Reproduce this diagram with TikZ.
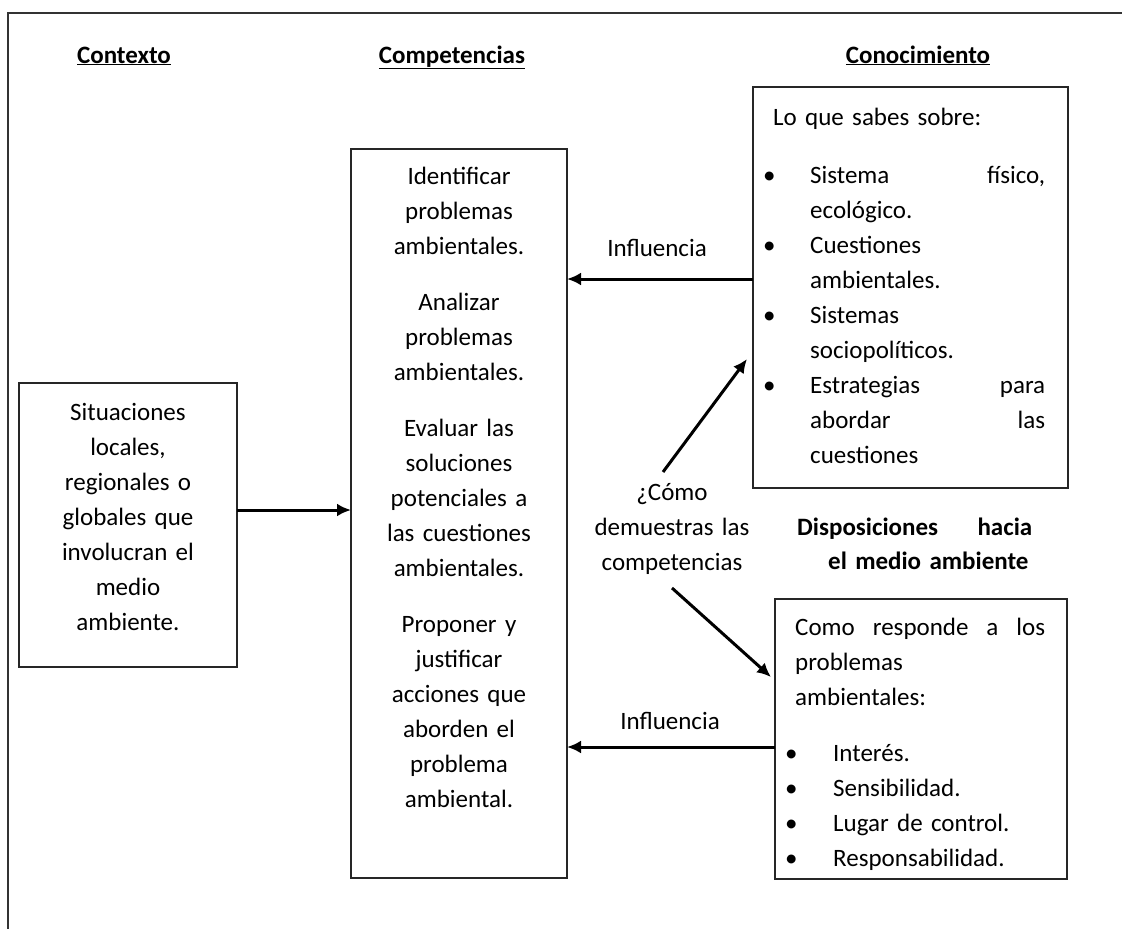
\documentclass[tikz,border=0pt]{standalone}
\usepackage{fontspec}
\setmainfont{Carlito}
\usetikzlibrary{arrows.meta}
\begin{document}
\begin{tikzpicture}[x=1pt,y=-1pt,
  box/.style={draw=black!85, line width=1.6pt, inner sep=0pt, outer sep=0pt},
  txt/.style={font=\fontsize{25}{35}\selectfont, inner sep=0pt, text=black},
  hdr/.style={font=\fontsize{25}{34}\selectfont\bfseries, inner sep=0pt, text=black},
  arr/.style={-{Latex[length=14pt,width=13pt]}, line width=3pt, draw=black}]
\useasboundingbox (0,0) rectangle (1122,929);
% outer frame (cut off at right and bottom)
\draw[line width=2.2pt, black!80] (8,929) -- (8,13) -- (1122,13);

% headers
\node[hdr, anchor=base] (h1) at (124,63) {\underline{Contexto}};
\node[hdr, anchor=base] (h2) at (452,63) {\underline{Competencias}};
\node[hdr, anchor=base] (h3) at (918,63) {\underline{Conocimiento}};
\node[hdr, anchor=base west, text width=235pt, align=left] (h4) at (797,535)
  {Disposiciones\hfill hacia\\\hspace*{31pt}el medio ambiente};

% boxes
\node[box, minimum width=218pt, minimum height=284pt] (ctx) at (128,525) {};
\node[box, minimum width=216pt, minimum height=729pt] (comp) at (459,513.5) {};
\node[box, minimum width=315pt, minimum height=401pt] (know) at (910.5,287.5) {};
\node[box, minimum width=292pt, minimum height=280pt] (disp) at (921,739) {};

% box texts
\node[txt, anchor=base, text width=210pt, align=center] (ctxt) at (128,420)
  {Situaciones\\locales,\\regionales o\\globales que\\involucran el\\medio\\ambiente.};
\node[txt, anchor=base, text width=210pt, align=center] (compt) at (459,184)
  {Identificar\\problemas\\ambientales.\\[21pt]Analizar\\problemas\\ambientales.\\[21pt]Evaluar las\\soluciones\\potenciales a\\las cuestiones\\ambientales.\\[21pt]Proponer y\\justificar\\acciones que\\aborden el\\problema\\ambiental.};
\node[txt, anchor=base west, text width=282pt, align=left] (knowt) at (763,125)
  {\hspace*{10pt}Lo que sabes sobre:\\[23pt]
   \makebox[47pt][l]{\textbullet}Sistema\hfill físico,\\
   \hspace*{47pt}ecológico.\\
   \makebox[47pt][l]{\textbullet}Cuestiones\\
   \hspace*{47pt}ambientales.\\
   \makebox[47pt][l]{\textbullet}Sistemas\\
   \hspace*{47pt}sociopolíticos.\\
   \makebox[47pt][l]{\textbullet}Estrategias\hfill para\\
   \hspace*{47pt}abordar\hfill las\\
   \hspace*{47pt}cuestiones};
\node[txt, anchor=base west, text width=260pt, align=left] (dispt) at (785,635)
  {\hspace*{10pt}Como\hfill responde\hfill a\hfill los\\
   \hspace*{10pt}problemas\\
   \hspace*{10pt}ambientales:\\[21pt]
   \makebox[48pt][l]{\textbullet}Interés.\\
   \makebox[48pt][l]{\textbullet}Sensibilidad.\\
   \makebox[48pt][l]{\textbullet}Lugar de control.\\
   \makebox[48pt][l]{\textbullet}Responsabilidad.};

% middle question
\node[txt, anchor=base, text width=200pt, align=center] (mid) at (672,500)
  {¿Cómo\\demuestras las\\competencias};

% arrow labels
\node[txt, anchor=base] (inf1) at (657,256) {Influencia};
\node[txt, anchor=base] (inf2) at (670,729) {Influencia};

% connectors
\coordinate (a1) at ([yshift=15pt]ctx.east);
\draw[arr] (a1) -- (a1 -| comp.west);
\coordinate (a2) at ([yshift=8.5pt]know.west);
\draw[arr] (a2) -- (a2 -| comp.east);
\coordinate (a3) at ([yshift=-8pt]disp.west);
\draw[arr] (a3) -- (a3 -| comp.east);
\coordinate (u1) at (663,472);
\coordinate (u2) at (747,359);
\draw[arr] (u1) -- (u2);
\coordinate (d1) at (672,588);
\coordinate (d2) at (771,677);
\draw[arr] (d1) -- (d2);
\end{tikzpicture}
\end{document}
